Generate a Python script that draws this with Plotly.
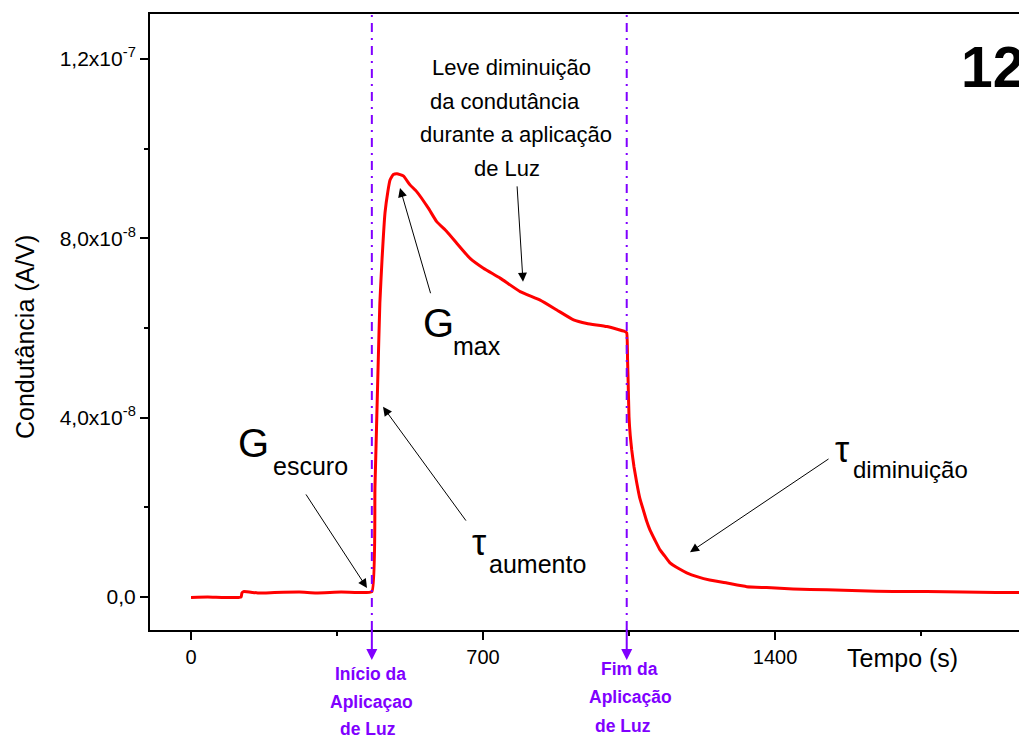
import plotly.graph_objects as go

# Photoconductance transient: dark level, light on, slow decay, light off
tempo = [0, 40, 80, 120, 122, 126, 160, 200, 260, 300, 360, 400, 433.5,
         441, 448.3, 452.7, 457.9, 465.1, 472, 477.1, 485, 493.8,
         509, 525, 541, 569, 589, 613, 637, 669, 701, 741, 789, 837, 877,
         917, 949, 997, 1040, 1044.5,
         1046.5, 1048, 1050, 1053, 1056.5, 1062, 1068.5, 1076, 1084.3, 1092,
         1100.4, 1112, 1124.3, 1136, 1148.3, 1168, 1188.3, 1215, 1243.3,
         1285, 1332.2, 1380, 1443.2, 1524.7, 1603.8, 1683, 1763.7, 1850,
         1930, 1985]
condutancia = [-0.01e-8, 0.0, -0.01e-8, 0.0, 0.09e-8, 0.12e-8, 0.09e-8, 0.10e-8,
               0.11e-8, 0.09e-8, 0.11e-8, 0.10e-8, 0.12e-8,
               2.45e-8, 5.06e-8, 6.55e-8, 7.52e-8, 8.57e-8, 9.05e-8, 9.30e-8,
               9.42e-8, 9.44e-8,
               9.39e-8, 9.19e-8, 9.04e-8, 8.67e-8, 8.37e-8, 8.15e-8, 7.89e-8,
               7.55e-8, 7.33e-8, 7.11e-8, 6.81e-8, 6.62e-8, 6.40e-8, 6.18e-8,
               6.10e-8, 6.03e-8, 5.92e-8, 5.89e-8,
               5.30e-8, 4.77e-8, 4.02e-8, 3.60e-8, 3.28e-8, 2.90e-8, 2.55e-8,
               2.20e-8, 1.94e-8, 1.70e-8, 1.49e-8, 1.27e-8, 1.05e-8, 0.91e-8,
               0.76e-8, 0.64e-8, 0.54e-8, 0.45e-8, 0.38e-8, 0.31e-8, 0.23e-8,
               0.21e-8, 0.18e-8, 0.16e-8, 0.14e-8, 0.12e-8, 0.12e-8, 0.11e-8,
               0.10e-8, 0.10e-8]

# Instants when the light is switched on and off
inicio_luz = 433.5
fim_luz = 1044.5

x_ticks = [0, 700, 1400]
x_tick_labels = ["0", "700", "1400"]
x_minor = [350, 1050, 1750]
y_ticks = [0, 4e-8, 8e-8, 1.2e-7]
y_tick_labels = ["0,0", "4,0x10<sup>-8</sup>", "8,0x10<sup>-8</sup>",
                 "1,2x10<sup>-7</sup>"]
y_minor = [2e-8, 6e-8, 1e-7]

FONT = "Liberation Sans, Arial, sans-serif"
ROXO = "#8000ff"

fig = go.Figure()
fig.add_trace(go.Scatter(x=tempo, y=condutancia, mode="lines",
                         line=dict(color="#ff0000", width=3, shape="spline",
                                   smoothing=0.4),
                         showlegend=False, hoverinfo="skip"))

# Dash-dot markers for light on / off
for xv in (inicio_luz, fim_luz):
    fig.add_shape(type="line", xref="x", yref="paper", x0=xv, x1=xv,
                  y0=0, y1=1, line=dict(color=ROXO, width=2,
                                         dash="9px,6px,2px,6px"))

annotations = []

def texto(x, y, s, size, xanchor="left", xref="x", yref="y", color="black",
          bold=False, angle=0):
    if bold:
        s = "<b>" + s + "</b>"
    annotations.append(dict(x=x, y=y, xref=xref, yref=yref, text=s,
                            showarrow=False, xanchor=xanchor, yanchor="middle",
                            textangle=angle,
                            font=dict(family=FONT, size=size, color=color)))

def seta(x, y, ax, ay, color="black", width=1, size=1.8, xref="x", yref="y",
         aref="data"):
    d = dict(x=x, y=y, xref=xref, yref=yref, text="", showarrow=True,
             arrowhead=2, arrowsize=size, arrowwidth=width, arrowcolor=color,
             ax=ax, ay=ay, standoff=0)
    if aref == "data":
        d.update(axref="x", ayref="y")
    annotations.append(d)

# Arrows below the axis at the switching instants
seta(inicio_luz, -0.0487, 0, -32, color=ROXO, width=2, size=1.1,
     yref="paper", aref="pixel")
seta(fim_luz, -0.0487, 0, -32, color=ROXO, width=2, size=1.1,
     yref="paper", aref="pixel")

# Explanatory text in the illuminated interval
texto(767.1, 11.797e-8, "Leve diminuição", 22, xanchor="center")
texto(753.9, 11.039e-8, "da condutância", 22, xanchor="center")
texto(777.9, 10.303e-8, "durante a aplicação", 22, xanchor="center")
texto(758.7, 9.545e-8, "de Luz", 22, xanchor="center")
seta(795.9, 7.03e-8, 781.5, 9.19e-8)

# G_escuro
texto(107.9, 3.442e-8, "G", 40)
texto(191.8, 2.922e-8, "escuro", 25)
seta(421.9, 0.20e-8, 273.3, 2.32e-8)

# G_max
texto(551.4, 6.118e-8, "G", 40)
texto(623.3, 5.599e-8, "max", 25)
seta(501.0, 9.12e-8, 575.3, 6.74e-8)

# tau_aumento
texto(668.8, 1.2245e-8, "τ", 36)
texto(709.6, 0.735e-8, "aumento", 25)
seta(460.3, 4.24e-8, 661.7, 1.67e-8)

# tau_diminuicao
texto(1539.0, 3.299e-8, "τ", 36)
texto(1582.2, 2.846e-8, "diminuição", 24)
seta(1196.2, 1.00e-8, 1531.9, 3.10e-8)

# Panel number
texto(1841.1, 11.808e-8, "12", 57, bold=True)

# Labels of the switching instants
texto(0.2537, -0.0709, "Início da", 17.5, xanchor="center", xref="paper",
      yref="paper", color=ROXO, bold=True)
texto(0.2549, -0.1164, "Aplicaçao", 17.5, xanchor="center", xref="paper",
      yref="paper", color=ROXO, bold=True)
texto(0.2514, -0.1602, "de Luz", 17.5, xanchor="center", xref="paper",
      yref="paper", color=ROXO, bold=True)
texto(0.5518, -0.0628, "Fim da", 17.5, xanchor="center", xref="paper",
      yref="paper", color=ROXO, bold=True)
texto(0.5524, -0.1083, "Aplicação", 17.5, xanchor="center", xref="paper",
      yref="paper", color=ROXO, bold=True)
texto(0.5443, -0.1554, "de Luz", 17.5, xanchor="center", xref="paper",
      yref="paper", color=ROXO, bold=True)

# Axis titles
texto(0.7998, -0.0455, "Tempo (s)", 25, xref="paper", yref="paper")
texto(-0.1438, 0.4756, "Condutância (A/V)", 25, xanchor="center",
      xref="paper", yref="paper", angle=-90)

fig.update_layout(
    width=1019, height=738,
    margin=dict(l=150, r=0, t=14, b=108),
    paper_bgcolor="white", plot_bgcolor="white",
    font=dict(family=FONT, size=20, color="black"),
    annotations=annotations,
    xaxis=dict(range=[-98.3, 1984.9], tickvals=x_ticks, ticktext=x_tick_labels,
               ticks="outside", ticklen=8, tickwidth=2, tickcolor="black",
               showline=True, linecolor="black", linewidth=2, mirror=True,
               showgrid=False, zeroline=False,
               tickfont=dict(family=FONT, size=20),
               minor=dict(tickvals=x_minor, ticks="outside", ticklen=4,
                          tickwidth=2, tickcolor="black")),
    yaxis=dict(range=[-0.736e-8, 13.0e-8], tickvals=y_ticks,
               ticktext=y_tick_labels,
               ticks="outside", ticklen=8, tickwidth=2, tickcolor="black",
               showline=True, linecolor="black", linewidth=2,
               showgrid=False, zeroline=False,
               tickfont=dict(family=FONT, size=21),
               minor=dict(tickvals=y_minor, ticks="outside", ticklen=4,
                          tickwidth=2, tickcolor="black")),
)

fig.write_html("out.html")
